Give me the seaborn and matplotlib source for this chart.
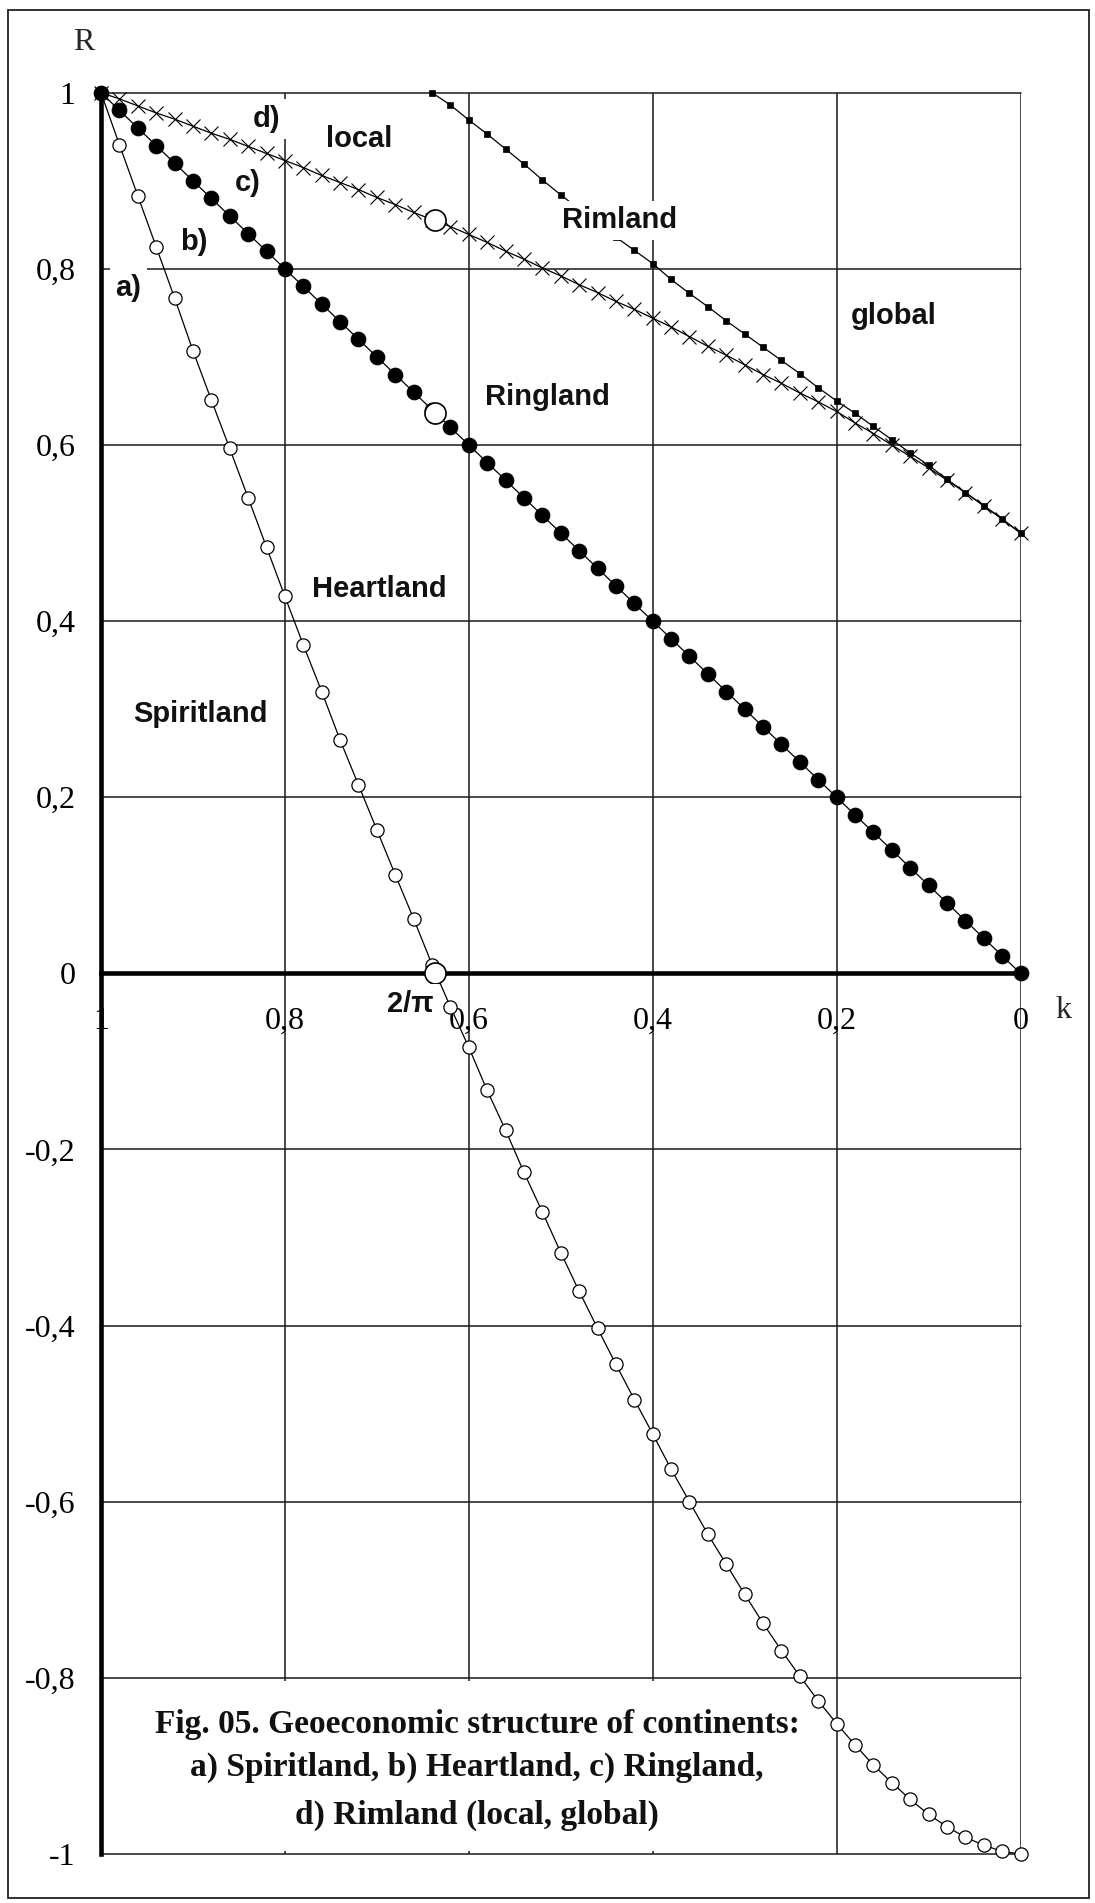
import matplotlib
matplotlib.use('Agg')
import matplotlib.pyplot as plt
import seaborn as sns
from matplotlib.patches import Rectangle

# ---------------- data ----------------
K = [1.00, 0.98, 0.96, 0.94, 0.92, 0.90, 0.88, 0.86, 0.84, 0.82,
     0.80, 0.78, 0.76, 0.74, 0.72, 0.70, 0.68, 0.66, 0.64, 0.62,
     0.60, 0.58, 0.56, 0.54, 0.52, 0.50, 0.48, 0.46, 0.44, 0.42,
     0.40, 0.38, 0.36, 0.34, 0.32, 0.30, 0.28, 0.26, 0.24, 0.22,
     0.20, 0.18, 0.16, 0.14, 0.12, 0.10, 0.08, 0.06, 0.04, 0.02, 0.00]

# a) Spiritland / Heartland boundary (open circles)
SPIRIT = [1.000, 0.941, 0.883, 0.825, 0.767, 0.707, 0.651, 0.596, 0.540, 0.484,
          0.428, 0.373, 0.320, 0.265, 0.214, 0.163, 0.112, 0.062, 0.010, -0.038,
          -0.084, -0.133, -0.178, -0.226, -0.271, -0.317, -0.361, -0.403, -0.444, -0.484,
          -0.523, -0.563, -0.600, -0.637, -0.671, -0.705, -0.738, -0.769, -0.798, -0.826,
          -0.852, -0.876, -0.899, -0.919, -0.938, -0.955, -0.969, -0.981, -0.990, -0.997, -1.000]

# c) Ringland (filled circles)
RING = [1.00, 0.98, 0.96, 0.94, 0.92, 0.90, 0.88, 0.86, 0.84, 0.82,
        0.80, 0.78, 0.76, 0.74, 0.72, 0.70, 0.68, 0.66, 0.64, 0.62,
        0.60, 0.58, 0.56, 0.54, 0.52, 0.50, 0.48, 0.46, 0.44, 0.42,
        0.40, 0.38, 0.36, 0.34, 0.32, 0.30, 0.28, 0.26, 0.24, 0.22,
        0.20, 0.18, 0.16, 0.14, 0.12, 0.10, 0.08, 0.06, 0.04, 0.02, 0.00]

# d) Rimland local (crosses)
LOCAL = [1.000, 0.993, 0.985, 0.977, 0.970, 0.962, 0.954, 0.947, 0.939, 0.931,
         0.923, 0.915, 0.906, 0.898, 0.890, 0.881, 0.873, 0.864, 0.856, 0.848,
         0.839, 0.830, 0.820, 0.811, 0.801, 0.792, 0.782, 0.773, 0.763, 0.754,
         0.744, 0.734, 0.723, 0.712, 0.702, 0.691, 0.680, 0.670, 0.659, 0.649,
         0.638, 0.625, 0.613, 0.600, 0.587, 0.574, 0.560, 0.546, 0.531, 0.516, 0.500]

# d) Rimland global (small squares)
RIM_K = [0.64, 0.62, 0.60, 0.58, 0.56, 0.54, 0.52, 0.50, 0.48, 0.46,
         0.44, 0.42, 0.40, 0.38, 0.36, 0.34, 0.32, 0.30, 0.28, 0.26,
         0.24, 0.22, 0.20, 0.18, 0.16, 0.14, 0.12, 0.10, 0.08, 0.06,
         0.04, 0.02, 0.00]
RIM = [1.000, 0.986, 0.969, 0.953, 0.936, 0.919, 0.901, 0.884, 0.868, 0.851,
       0.836, 0.821, 0.806, 0.788, 0.772, 0.757, 0.741, 0.726, 0.711, 0.696,
       0.681, 0.665, 0.650, 0.636, 0.621, 0.606, 0.591, 0.577, 0.561, 0.546,
       0.531, 0.516, 0.500]

# points at k = 2/pi
SPECIAL_K = [0.6366, 0.6366, 0.6366]
SPECIAL_R = [0.856, 0.6366, 0.0]

X_TICKS = [1.0, 0.8, 0.6, 0.4, 0.2, 0.0]
X_LABELS = ['1', '0,8', '0,6', '0,4', '0,2', '0']
Y_TICKS = [1.0, 0.8, 0.6, 0.4, 0.2, 0.0, -0.2, -0.4, -0.6, -0.8, -1.0]
Y_LABELS = ['1', '0,8', '0,6', '0,4', '0,2', '0', '-0,2', '-0,4', '-0,6', '-0,8', '-1']

REGION_LABELS = ['d)', 'local', 'c)', 'b)', 'a)', 'Rimland', 'global',
                 'Ringland', 'Heartland', 'Spiritland', '2/π']
REGION_K = [0.8195, 0.7194, 0.840, 0.899, 0.970, 0.4355, 0.1376,
            0.514, 0.6977, 0.892, 0.664]
REGION_R = [0.970, 0.947, 0.898, 0.830, 0.778, 0.855, 0.747,
            0.654, 0.437, 0.295, -0.035]

CAPTION = ['Fig. 05. Geoeconomic structure of continents:',
           'a) Spiritland, b) Heartland, c) Ringland,',
           'd) Rimland (local, global)']

# ---------------- style ----------------
sns.set_style('white')
plt.rcParams['font.family'] = ['Liberation Serif', 'DejaVu Serif']
plt.rcParams['axes.unicode_minus'] = False

W, H = 1095, 1903
fig = plt.figure(figsize=(W / 100, H / 100), dpi=100)
fig.patch.set_facecolor('white')

y_top, y_bot = 92.7, 1854.0
x_left, x_right = 101.0, 1020.5
ax = fig.add_axes([x_left / W, 1 - y_bot / H, (x_right - x_left) / W, (y_bot - y_top) / H])
ax.set_xlim(1, 0)
ax.set_ylim(-1, 1)

# grid
ax.set_xticks(X_TICKS)
ax.set_xticklabels(X_LABELS)
ax.set_yticks(Y_TICKS)
ax.set_yticklabels(Y_LABELS)
ax.set_axisbelow(True)
ax.grid(True, color='#1a1a1a', lw=1.1)
for gl in ax.get_xgridlines() + ax.get_ygridlines():
    gl.set_clip_on(False)

# spines: thick axes at k = 1 and R = 0
for s in ['top', 'right']:
    ax.spines[s].set_visible(False)
ax.spines['left'].set_linewidth(3.3)
ax.spines['left'].set_color('black')
ax.spines['bottom'].set_position(('data', 0))
ax.spines['bottom'].set_linewidth(3.3)
ax.spines['bottom'].set_color('black')

ax.tick_params(axis='x', direction='out', length=7, width=2.5, pad=17,
               labelsize=23, colors='black')
ax.tick_params(axis='y', direction='out', length=6.5, width=2.2, pad=12,
               labelsize=23, colors='black')

# white area behind the caption
ax.add_patch(Rectangle((0.206, -0.997), 0.784, 0.194, facecolor='white',
                       edgecolor='none', zorder=1))

# curves
sns.lineplot(x=K, y=SPIRIT, ax=ax, sort=False, color='black', lw=0.9,
             marker='o', markersize=9.5, markerfacecolor='white',
             markeredgecolor='black', markeredgewidth=0.9, clip_on=False, zorder=3)
sns.lineplot(x=K, y=LOCAL, ax=ax, sort=False, color='black', lw=0.9,
             marker='x', markersize=9.5, markeredgecolor='black',
             markeredgewidth=0.8, clip_on=False, zorder=3)
sns.lineplot(x=RIM_K, y=RIM, ax=ax, sort=False, color='black', lw=0.9,
             marker='s', markersize=3.8, markerfacecolor='black',
             markeredgecolor='black', markeredgewidth=0.5, clip_on=False, zorder=3)
sns.lineplot(x=K, y=RING, ax=ax, sort=False, color='black', lw=0.9,
             marker='o', markersize=10.5, markerfacecolor='black',
             markeredgecolor='black', markeredgewidth=0.8, clip_on=False, zorder=4)
sns.scatterplot(x=SPECIAL_K, y=SPECIAL_R, ax=ax, s=230, color='white',
                edgecolor='black', linewidth=1.2, zorder=6, clip_on=False)

ax.set_xlabel('')
ax.set_ylabel('')

# region labels
for lab, kk, rr in zip(REGION_LABELS, REGION_K, REGION_R):
    ax.text(kk, rr, lab, ha='center', va='center', fontsize=21, fontweight='bold',
            family=['Liberation Sans', 'DejaVu Sans'], color='#111111', zorder=7,
            bbox=dict(facecolor='white', edgecolor='none', boxstyle='square,pad=0.2'))

# axis names
fig.text(84 / W, 1 - 43 / H, 'R', ha='center', va='center', fontsize=23,
         family=['Liberation Serif', 'DejaVu Serif'])
fig.text(1063 / W, 1 - 1010 / H, 'k', ha='center', va='center', fontsize=23,
         family=['Liberation Serif', 'DejaVu Serif'])

# caption
for line, yy in zip(CAPTION, [1724, 1767, 1815]):
    fig.text(477 / W, 1 - yy / H, line, ha='center', va='center', fontsize=24,
             fontweight='bold', family=['Liberation Serif', 'DejaVu Serif'],
             color='#111111', zorder=8)

# outer frame
fig.add_artist(Rectangle((8 / W, 1 - 1898 / H), (1089 - 8) / W, (1898 - 10) / H,
                         transform=fig.transFigure, fill=False,
                         edgecolor='#222222', lw=1.3))

fig.savefig('out.png', dpi=100, facecolor='white')
